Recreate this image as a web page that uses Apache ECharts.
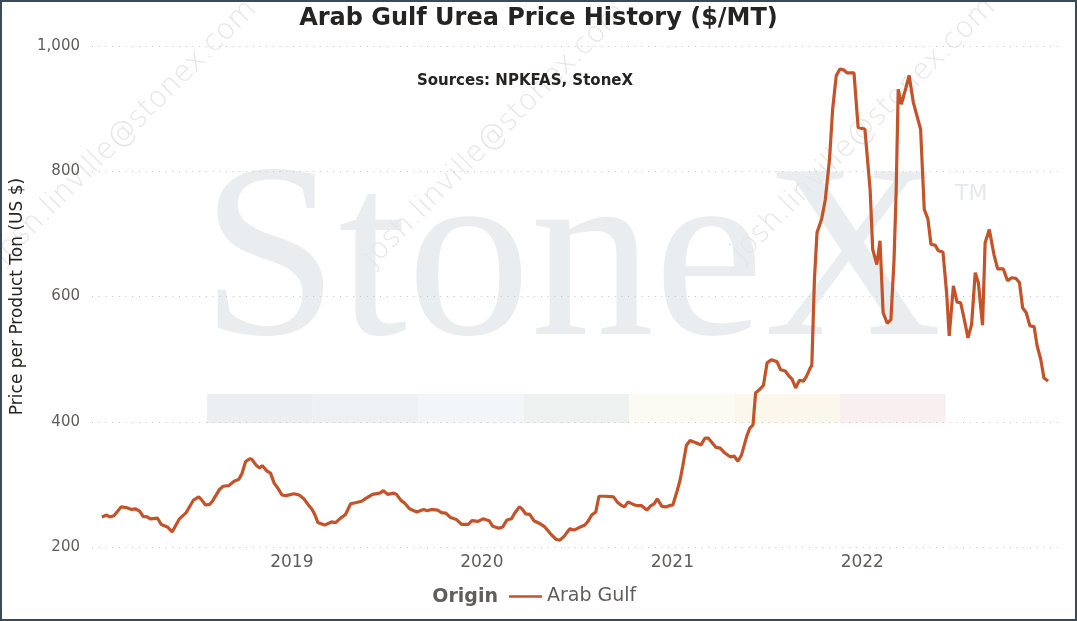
<!DOCTYPE html>
<html>
<head>
<meta charset="utf-8">
<script src="https://cdn.jsdelivr.net/npm/echarts@6/dist/echarts.min.js"></script>
<style>
  html, body { margin: 0; padding: 0; background: #fff; }
  #chart { width: 1077px; height: 621px; }
</style>
</head>
<body>
<div id="chart"></div>
<script>
// Arab Gulf urea price, $/MT
const priceDates = [
  '2018-01-01','2018-01-10','2018-01-16','2018-01-24','2018-02-07','2018-02-17','2018-02-27','2018-03-07',
  '2018-03-15','2018-03-21','2018-03-29','2018-04-04','2018-04-18','2018-04-25','2018-05-07','2018-05-16',
  '2018-05-30','2018-06-12','2018-06-26','2018-07-06','2018-07-11','2018-07-19','2018-07-27','2018-08-02',
  '2018-08-15','2018-08-22','2018-09-02','2018-09-12','2018-09-21','2018-09-27','2018-10-04','2018-10-12',
  '2018-10-16','2018-10-25','2018-10-31','2018-11-05','2018-11-13','2018-11-21','2018-11-28','2018-12-05',
  '2018-12-13','2018-12-21',
  '2019-01-05','2019-01-15','2019-01-24','2019-02-01','2019-02-09','2019-02-14','2019-02-20','2019-03-05',
  '2019-03-18','2019-03-26','2019-04-03','2019-04-14','2019-04-24','2019-05-05','2019-05-15','2019-05-24',
  '2019-06-05','2019-06-19','2019-06-26','2019-07-04','2019-07-16','2019-07-21','2019-07-30','2019-08-06',
  '2019-08-15','2019-08-29','2019-09-11','2019-09-18','2019-09-26','2019-10-08','2019-10-15','2019-10-24',
  '2019-11-02','2019-11-13','2019-11-23','2019-12-06','2019-12-13','2019-12-25',
  '2020-01-03','2020-01-15','2020-01-22','2020-02-03','2020-02-10','2020-02-18','2020-02-27','2020-03-04',
  '2020-03-13','2020-03-18','2020-03-25','2020-04-02','2020-04-10','2020-04-20','2020-05-01','2020-05-12',
  '2020-05-23','2020-05-30','2020-06-07','2020-06-18','2020-06-26','2020-07-06','2020-07-17','2020-07-23',
  '2020-07-30','2020-08-07','2020-08-13','2020-08-25','2020-09-10','2020-09-17','2020-09-26','2020-10-01',
  '2020-10-08','2020-10-18','2020-10-26','2020-11-03','2020-11-13','2020-11-21','2020-11-27','2020-12-03',
  '2020-12-12','2020-12-20','2020-12-26',
  '2021-01-02','2021-01-10','2021-01-16','2021-01-21','2021-01-28','2021-02-04','2021-02-14','2021-02-25',
  '2021-03-05','2021-03-11','2021-03-20','2021-03-26','2021-04-03','2021-04-12','2021-04-22','2021-04-30',
  '2021-05-07','2021-05-14','2021-05-24','2021-05-30','2021-06-05','2021-06-10','2021-06-17','2021-06-25',
  '2021-07-02','2021-07-10','2021-07-21','2021-07-28','2021-08-06','2021-08-12','2021-08-19','2021-08-26',
  '2021-09-02','2021-09-10','2021-09-16','2021-09-23','2021-09-26','2021-10-01','2021-10-06','2021-10-15',
  '2021-10-22','2021-10-30','2021-11-05','2021-11-12','2021-11-19','2021-11-26','2021-12-03','2021-12-16',
  '2021-12-24',
  '2022-01-06','2022-01-16','2022-01-21','2022-01-29','2022-02-04','2022-02-10','2022-02-18','2022-02-25',
  '2022-03-03','2022-03-07','2022-03-11','2022-03-17','2022-03-26','2022-04-01','2022-04-09','2022-04-23',
  '2022-04-30','2022-05-07','2022-05-13','2022-05-21','2022-05-27','2022-06-05','2022-06-12','2022-06-17',
  '2022-06-25','2022-07-02','2022-07-09','2022-07-16','2022-07-23','2022-07-30','2022-08-06','2022-08-12',
  '2022-08-20','2022-08-25','2022-09-02','2022-09-11','2022-09-18','2022-09-29','2022-10-07','2022-10-15',
  '2022-10-23','2022-10-30','2022-11-05','2022-11-12','2022-11-19','2022-11-27','2022-12-03','2022-12-10',
  '2022-12-16','2022-12-24'
];

const arabGulf = [
  248, 251, 248, 250, 264, 263, 260, 261,
  257, 249, 248, 245, 246, 236, 232, 224,
  245, 255, 275, 280, 276, 267, 268, 274,
  292, 297, 298, 305, 308, 317, 336, 341,
  340, 330, 326, 330, 322, 318, 302, 294,
  283, 282,
  285, 283, 277, 268, 260, 252, 239, 235,
  240, 239, 245, 252, 269, 271, 273, 278,
  284, 286, 290, 284, 286, 284, 274, 270,
  261, 256, 260, 258, 260, 259, 255, 254,
  247, 244, 236, 236, 242, 241,
  245, 242, 233, 230, 232, 243, 245, 254,
  264, 261, 253, 252, 242, 238, 232, 221,
  212, 211, 217, 229, 227, 231, 235, 241,
  251, 256, 281, 281, 280, 272, 266, 264,
  272, 268, 266, 266, 259, 266, 269, 277,
  265, 264, 266,
  267, 289, 307, 329, 362, 370, 367, 363,
  374, 374, 365, 359, 358, 350, 344, 345,
  337, 347, 377, 390, 395, 446, 451, 458,
  494, 499, 496, 483, 481, 474, 468, 454,
  466, 465, 473, 486, 490, 627, 702, 724,
  755, 819, 899, 953, 963, 962, 957, 957,
  870,
  867, 771, 675, 651, 689, 574, 557, 563,
  659, 766, 931, 907, 934, 953, 910, 867,
  739, 724, 683, 682, 673, 671, 606, 537,
  617, 591, 590, 563, 534, 555, 638, 622,
  554, 686, 707, 667, 644, 644, 625, 630,
  629, 622, 582, 574, 553, 552, 521, 499,
  470, 465
];

const yearTicks = ['2019', '2020', '2021', '2022'];
const seriesName = 'Arab Gulf';

const chart = echarts.init(document.getElementById('chart'));

const font = 'DejaVu Sans';
const greyText = '#605e5c';
const darkText = '#252423';
const toTime = d => +new Date(d + 'T00:00:00Z');

// watermark band colours
const bandColors = ['#eceff2', '#eef1f4', '#f2f6f9', '#edf2f0', '#fbfbf3', '#fbf7ec', '#f9eef0'];
const band = bandColors.map((c, i) => ({
  type: 'rect',
  z: -10,
  shape: { x: 207 + i * 105.5, y: 394, width: 105.5, height: 29 },
  style: { fill: c }
}));

const stamp = [[125, 132], [495, 135], [864, 130]].map(([x, y]) => ({
  type: 'text',
  z: -9,
  x: x, y: y,
  rotation: Math.PI / 4,
  style: {
    text: 'josh.linville@stonex.com',
    fontFamily: font, fontSize: 29, fontWeight: 200,
    fill: '#e6e6e6', align: 'center', verticalAlign: 'middle'
  }
}));

const option = {
  animation: false,
  backgroundColor: '#fff',
  title: {
    text: 'Arab Gulf Urea Price History ($/MT)',
    left: 'center',
    top: 7,
    padding: 0,
    textStyle: { fontFamily: font, fontSize: 24, fontWeight: 'bold', color: darkText }
  },
  grid: { left: 92, right: 19, top: 46, bottom: 74 },
  legend: {
    data: [seriesName],
    left: 509,
    top: 587,
    padding: 0,
    icon: 'rect',
    itemWidth: 33,
    itemHeight: 2.5,
    itemGap: 6,
    textStyle: { fontFamily: font, fontSize: 19, color: greyText }
  },
  xAxis: {
    type: 'value',
    min: toTime('2017-12-13'),
    max: toTime('2023-01-12'),
    axisLine: { show: false },
    axisTick: { show: false },
    splitLine: { show: false },
    axisLabel: {
      customValues: yearTicks.map(y => toTime(y + '-01-01')),
      formatter: v => String(new Date(v).getUTCFullYear()),
      margin: 7,
      fontFamily: font, fontSize: 17, color: greyText
    }
  },
  yAxis: {
    type: 'value',
    min: 200,
    max: 1000,
    interval: 200,
    name: 'Price per Product Ton (US $)',
    nameLocation: 'middle',
    nameGap: 66,
    nameTextStyle: { fontFamily: font, fontSize: 17, color: darkText },
    axisLine: { show: false },
    axisTick: { show: false },
    axisLabel: {
      formatter: v => v.toLocaleString('en-US'),
      margin: 12,
      fontFamily: font, fontSize: 15, color: greyText
    },
    splitLine: { lineStyle: { type: [1, 5.7], color: '#c4c4c4', width: 1 } }
  },
  series: [{
    name: seriesName,
    type: 'line',
    symbol: 'none',
    data: priceDates.map((d, i) => [toTime(d), arabGulf[i]]),
    lineStyle: { color: '#c4532a', width: 3.2 },
    itemStyle: { color: '#c4532a' },
    z: 5
  }],
  graphic: [
    ...band,
    {
      type: 'text', z: -10, x: 201, y: 146,
      style: {
        text: 'StoneX', fontFamily: 'Liberation Serif', fontSize: 247,
        fill: '#e9edf0', verticalAlign: 'top'
      }
    },
    {
      type: 'text', z: -10, x: 955, y: 194,
      style: {
        text: 'TM', fontFamily: font, fontSize: 22,
        fill: '#e6eaed', verticalAlign: 'middle'
      }
    },
    ...stamp,
    {
      type: 'text', x: 525, y: 81,
      style: {
        text: 'Sources: NPKFAS, StoneX', fontFamily: font, fontSize: 15, fontWeight: 'bold',
        fill: darkText, align: 'center', verticalAlign: 'middle'
      }
    },
    {
      type: 'text', x: 498, y: 597,
      style: {
        text: 'Origin', fontFamily: font, fontSize: 19, fontWeight: 'bold',
        fill: greyText, align: 'right', verticalAlign: 'middle'
      }
    },
    {
      type: 'rect', z: 20,
      shape: { x: 1, y: 1, width: 1075, height: 619 },
      style: { fill: 'none', stroke: '#3b4a54', lineWidth: 2 }
    }
  ]
};

chart.setOption(option);
</script>
</body>
</html>
